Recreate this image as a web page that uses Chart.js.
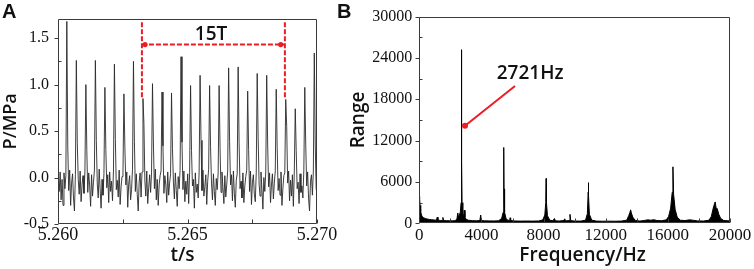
<!DOCTYPE html>
<html><head><meta charset="utf-8">
<script src="https://cdn.jsdelivr.net/npm/chart.js@4.4.0/dist/chart.umd.min.js"></script>
<style>
html,body{margin:0;padding:0;background:#fff;width:754px;height:269px;overflow:hidden}
#wa{position:absolute;left:0;top:0;width:345px;height:269px}
#wb{position:absolute;left:335px;top:0;width:419px;height:269px}
</style></head><body>
<div id="wa"><canvas id="ca"></canvas></div>
<div id="wb"><canvas id="cb"></canvas></div>
<script>
// ---------- Panel A: pressure time series (sampled signal) ----------
const sampleStartS = 5.26001;
const sampleIntervalS = 0.00003675;
const pressureMPa = [
  0.04, -0.15, 0.06, -0.24, -0.02, -0.30, 0.05, -0.12, 0.02,
  1.68, 0.33, -0.14, 0.08, -0.30, -0.06, 0.04, -0.22, -0.36, 0.03,
  1.26, 0.37, -0.02, -0.18, 0.07, -0.26, -0.08, 0.02, -0.17, 0.06,
  1.00, 0.29, -0.16, 0.05, -0.09, -0.31, 0.03, -0.20, -0.05, 0.08,
  1.26, 0.40, -0.07, -0.22, 0.09, -0.12, -0.33, -0.02, -0.19, 0.04,
  0.97, 0.30, -0.11, 0.03, -0.27, 0.06, -0.15, -0.04, -0.25, 0.07,
  1.22, 0.41, -0.13, -0.03, -0.21, 0.08, -0.29, -0.10, 0.01, 0.05,
  0.90, 0.32, -0.08, 0.06, -0.32, -0.07, 0.02, -0.24, -0.13, 0.09,
  1.25, 0.39, -0.15, 0.04, -0.18, -0.36, -0.05, 0.05, -0.21, 0.06,
  0.85, 0.58, -0.04, -0.20, 0.07, -0.28, -0.11, 0.03, -0.16, 0.05,
  1.01, 0.35, -0.12, 0.09, -0.24, -0.02, -0.30, -0.08, 0.02, 0.07,
  0.92, 0.34, -0.17, 0.02, -0.08, -0.27, 0.06, -0.19, -0.06, 0.04,
  0.91, 0.31, -0.05, -0.23, 0.05, -0.14, -0.31, 0.01, -0.12, 0.08,
  1.30, 0.38, -0.13, 0.07, -0.26, -0.04, -0.18, 0.04, -0.28, 0.05,
  0.99, 0.29, -0.09, -0.02, -0.33, 0.05, -0.16, -0.07, -0.22, 0.06,
  1.10, 0.40, -0.14, 0.08, -0.20, -0.10, 0.03, -0.29, -0.04, 0.09,
  0.99, 0.33, -0.06, -0.24, 0.04, -0.15, -0.30, -0.01, -0.13, 0.05,
  0.99, 0.31, -0.16, 0.06, -0.11, -0.28, 0.02, -0.21, -0.08, 0.07,
  1.18, 0.39, -0.08, 0.03, -0.25, 0.07, -0.17, -0.32, -0.03, 0.04,
  1.19, 0.37, -0.12, -0.04, -0.22, 0.05, -0.27, -0.09, 0.01, 0.08,
  0.93, 0.30, -0.15, 0.07, -0.29, -0.05, 0.03, -0.18, -0.26, 0.05,
  1.12, 0.43, -0.07, -0.20, 0.06, -0.13, -0.34, 0.00, -0.15, 0.06,
  1.10, 0.35, -0.10, 0.05, -0.27, -0.08, 0.04, -0.23, -0.06, 0.07,
  0.95, 0.32, -0.14, -0.01, -0.19, 0.06, -0.30, -0.12, 0.02, 0.05,
  0.84, 0.55, -0.06, 0.07, -0.25, -0.03, -0.20, 0.03, -0.31, 0.06,
  0.74, 0.29, -0.12, -0.05, -0.28, 0.04, -0.16, -0.09, -0.22, 0.08,
  0.97, 0.36, -0.09, 0.06, -0.23, -0.36, -0.04, 0.03, -0.19, 0.07,
  1.34, 0.34, -0.13
];
const aXTickValues = [5.260, 5.2625, 5.265, 5.2675, 5.270];
const aXTickLabels = ['5.260', '', '5.265', '', '5.270'];
const aYTickValues = [-0.5, -0.25, 0, 0.25, 0.5, 0.75, 1.0, 1.25, 1.5];
const aYTickLabels = ['-0.5', '', '0.0', '', '0.5', '', '1.0', '', '1.5'];
// 15T marker (data coordinates)
const periodMarkT = [5.26324, 5.26876];
const periodMarkP = [0.86, 1.67];
const periodBarP = 1.43;
const periodDotT = [5.26336, 5.26860];
const periodLabel = '15T';
const periodLabelAt = [5.26591, 1.54];

// ---------- Panel B: spectrum ----------
const freqHz = [
  0, 20, 50, 90, 140, 200, 280, 380, 500, 650, 800, 950, 1100, 1160, 1200, 1350, 1480, 1520, 1560, 1750,
  1950, 2150, 2300, 2420, 2480, 2520, 2580, 2640, 2690, 2712, 2721, 2730, 2752, 2800, 2860, 2900, 2940, 3000, 3150, 3400,
  3700, 3900, 3950, 4000, 4200, 4500, 4800, 5100, 5300, 5400, 5430, 5442, 5454, 5490, 5580, 5700, 5820, 5850, 5880, 6100,
  6500, 6900, 7300, 7700, 7950, 8080, 8140, 8163, 8186, 8250, 8400, 8600, 8700, 8760, 9000, 9300, 9360, 9420, 9650, 9700,
  9750, 10000, 10400, 10700, 10820, 10870, 10884, 10900, 10950, 11100, 11400, 11800, 12200, 12600, 13000, 13350, 13480, 13560, 13605, 13650,
  13740, 13900, 14200, 14500, 14700, 14900, 15100, 15300, 15600, 15900, 16050, 16180, 16280, 16326, 16370, 16470, 16600, 16800, 17100, 17400,
  17600, 17900, 18300, 18650, 18800, 18920, 19000, 19047, 19100, 19180, 19280, 19400, 19600, 20000
];
const rangeAmp = [
  3900, 3600, 2600, 1700, 1200, 950, 800, 700, 620, 560, 520, 480, 450, 900, 450, 420, 400, 850, 400, 380,
  370, 360, 380, 600, 1500, 900, 1200, 1600, 3000, 9000, 25200, 9000, 3000, 1400, 1100, 1900, 900, 600, 450, 380,
  360, 400, 1200, 400, 360, 350, 340, 360, 700, 1600, 5000, 11000, 5000, 1600, 700, 450, 420, 800, 400, 340,
  320, 330, 320, 340, 500, 1200, 3000, 6500, 3000, 1100, 450, 380, 700, 360, 330, 400, 650, 350, 400, 1300,
  380, 330, 320, 450, 1400, 4500, 5900, 4000, 1300, 450, 320, 300, 310, 300, 320, 450, 1100, 1600, 1950, 1500,
  900, 420, 320, 420, 500, 450, 520, 400, 380, 500, 1000, 2200, 4500, 8200, 4200, 2000, 900, 450, 400, 500,
  450, 350, 330, 450, 1000, 2200, 2800, 3100, 2300, 2100, 1300, 700, 400, 350
];
const bXTickValues = [0, 2000, 4000, 6000, 8000, 10000, 12000, 14000, 16000, 18000, 20000];
const bXTickLabels = ['0', '', '4000', '', '8000', '', '12000', '', '16000', '', '20000'];
const bYTickValues = [0, 3000, 6000, 9000, 12000, 15000, 18000, 21000, 24000, 27000, 30000];
const bYTickLabels = ['0', '', '6000', '', '12000', '', '18000', '', '24000', '', '30000'];
// 2721 Hz callout (data coordinates)
const calloutFrom = [6162, 19930];
const calloutTo = [2943, 14160];
const calloutLabel = '2721Hz';
const calloutLabelAt = [4984, 21660];

const SERIF = '"Liberation Serif", "Times New Roman", serif';
const SANS = '"Open Sans", "Noto Sans", sans-serif';
const TITLE_FONT = '600 19px ' + SANS;
const RED = '#ec1c24';
const INK = '#111';

function makeDecor(letter, xTitle, xTitleShift, annotate) {
  return {
    id: 'decor' + letter,
    afterDatasetsDraw(chart) {
      const {ctx, chartArea: a} = chart;
      const x = chart.scales.x, y = chart.scales.y;
      ctx.save();
      ctx.strokeStyle = '#3a3a3a';
      ctx.lineWidth = 1;
      const L = Math.round(a.left) + 0.5, R = Math.round(a.right) - 0.5;
      const T = Math.round(a.top) + 0.5, B = Math.round(a.bottom) - 0.5;
      ctx.beginPath();
      ctx.rect(L, T, R - L, B - T);
      y.ticks.forEach(t => {
        const py = Math.round(y.getPixelForValue(t.value)) + 0.5;
        if (t.label) { ctx.moveTo(L - 4, py); ctx.lineTo(L, py); }
        else { ctx.moveTo(L, py); ctx.lineTo(L + 3, py); }
      });
      x.ticks.forEach(t => {
        const px = Math.round(x.getPixelForValue(t.value)) + 0.5;
        ctx.moveTo(px, B); ctx.lineTo(px, B - 4);
      });
      ctx.stroke();
      annotate(chart, x, y, ctx);
      ctx.fillStyle = INK;
      ctx.font = TITLE_FONT;
      ctx.textAlign = 'center'; ctx.textBaseline = 'middle';
      ctx.fillText(xTitle, (a.left + a.right) / 2 + xTitleShift, chart.height - 13);
      ctx.font = 'bold 20px "Liberation Sans", Arial, sans-serif';
      ctx.textBaseline = 'alphabetic';
      ctx.textAlign = 'left';
      ctx.fillText(letter, 2, 18);
      ctx.restore();
    }
  };
}

function dot(ctx, px, py, r) {
  ctx.beginPath(); ctx.arc(px, py, r, 0, Math.PI * 2); ctx.fill();
}

const decorA = makeDecor('A', 't/s', -5, (chart, x, y, ctx) => {
  ctx.strokeStyle = RED; ctx.fillStyle = RED; ctx.lineWidth = 2;
  ctx.setLineDash([5, 2]);
  ctx.beginPath();
  periodMarkT.forEach(t => {
    const px = x.getPixelForValue(t);
    ctx.moveTo(px, y.getPixelForValue(periodMarkP[1]));
    ctx.lineTo(px, y.getPixelForValue(periodMarkP[0]));
  });
  ctx.moveTo(x.getPixelForValue(periodMarkT[0]), y.getPixelForValue(periodBarP));
  ctx.lineTo(x.getPixelForValue(periodMarkT[1]), y.getPixelForValue(periodBarP));
  ctx.stroke();
  ctx.setLineDash([]);
  periodDotT.forEach(t => dot(ctx, x.getPixelForValue(t), y.getPixelForValue(periodBarP), 2.6));
  ctx.fillStyle = INK;
  ctx.font = TITLE_FONT;
  ctx.textAlign = 'center'; ctx.textBaseline = 'middle';
  ctx.fillText(periodLabel, x.getPixelForValue(periodLabelAt[0]), y.getPixelForValue(periodLabelAt[1]));
});

const decorB = makeDecor('B', 'Frequency/Hz', 8, (chart, x, y, ctx) => {
  ctx.strokeStyle = RED; ctx.fillStyle = RED; ctx.lineWidth = 2;
  const x0 = x.getPixelForValue(calloutFrom[0]), y0 = y.getPixelForValue(calloutFrom[1]);
  const x1 = x.getPixelForValue(calloutTo[0]), y1 = y.getPixelForValue(calloutTo[1]);
  ctx.beginPath(); ctx.moveTo(x0, y0); ctx.lineTo(x1, y1); ctx.stroke();
  dot(ctx, x1, y1, 3);
  ctx.fillStyle = INK;
  ctx.font = TITLE_FONT;
  ctx.textAlign = 'left'; ctx.textBaseline = 'middle';
  ctx.fillText(calloutLabel, x.getPixelForValue(calloutLabelAt[0]), y.getPixelForValue(calloutLabelAt[1]));
});

function axisCommon(vals, labels, size, pad, min, max) {
  return {
    type: 'linear', min: min, max: max,
    grid: {display: false, drawTicks: false},
    border: {display: false},
    afterBuildTicks: s => { s.ticks = vals.map(v => ({value: v})); },
    ticks: {autoSkip: false, maxRotation: 0, minRotation: 0, padding: pad, color: INK,
      font: {family: SERIF, size: size}, callback: (v, i) => labels[i]}
  };
}

new Chart(document.getElementById('ca'), {
  type: 'line',
  data: {datasets: [{
    data: pressureMPa.map((p, i) => ({x: sampleStartS + i * sampleIntervalS, y: p})),
    borderColor: '#2a2a2a', borderWidth: 0.9, pointRadius: 0, tension: 0, fill: false
  }]},
  options: {
    responsive: true, maintainAspectRatio: false, animation: false, devicePixelRatio: 1,
    layout: {padding: {top: 15, right: 28, bottom: 0, left: 0}},
    plugins: {legend: {display: false}, tooltip: {enabled: false}},
    scales: {
      x: Object.assign(axisCommon(aXTickValues, aXTickLabels, 18, 0, 5.260, 5.270), {
        afterFit: s => { s.height = 45; }
      }),
      y: Object.assign(axisCommon(aYTickValues, aYTickLabels, 16, 9, -0.5, 1.71), {
        afterFit: s => { s.width = 58; },
        title: {display: true, text: 'P/MPa', color: INK, font: {family: SANS, size: 18, weight: 600}, padding: {top: 0, bottom: 0}}
      })
    }
  },
  plugins: [decorA]
});

new Chart(document.getElementById('cb'), {
  type: 'line',
  data: {datasets: [{
    data: freqHz.map((f, i) => ({x: f, y: rangeAmp[i]})),
    borderColor: '#000', backgroundColor: '#000', borderWidth: 1, pointRadius: 0, tension: 0, fill: 'origin'
  }]},
  options: {
    responsive: true, maintainAspectRatio: false, animation: false, devicePixelRatio: 1,
    layout: {padding: {top: 15, right: 24, bottom: 0, left: 0}},
    plugins: {legend: {display: false}, tooltip: {enabled: false}},
    scales: {
      x: Object.assign(axisCommon(bXTickValues, bXTickLabels, 17, 2, 0, 20000), {
        afterFit: s => { s.height = 45.7; }
      }),
      y: Object.assign(axisCommon(bYTickValues, bYTickLabels, 16, 7, 0, 30000), {
        afterFit: s => { s.width = 84.3; },
        title: {display: true, text: 'Range', color: INK, font: {family: SANS, size: 19, weight: 600}, padding: {top: 12, bottom: 0}}
      })
    }
  },
  plugins: [decorB]
});
</script>
</body></html>
